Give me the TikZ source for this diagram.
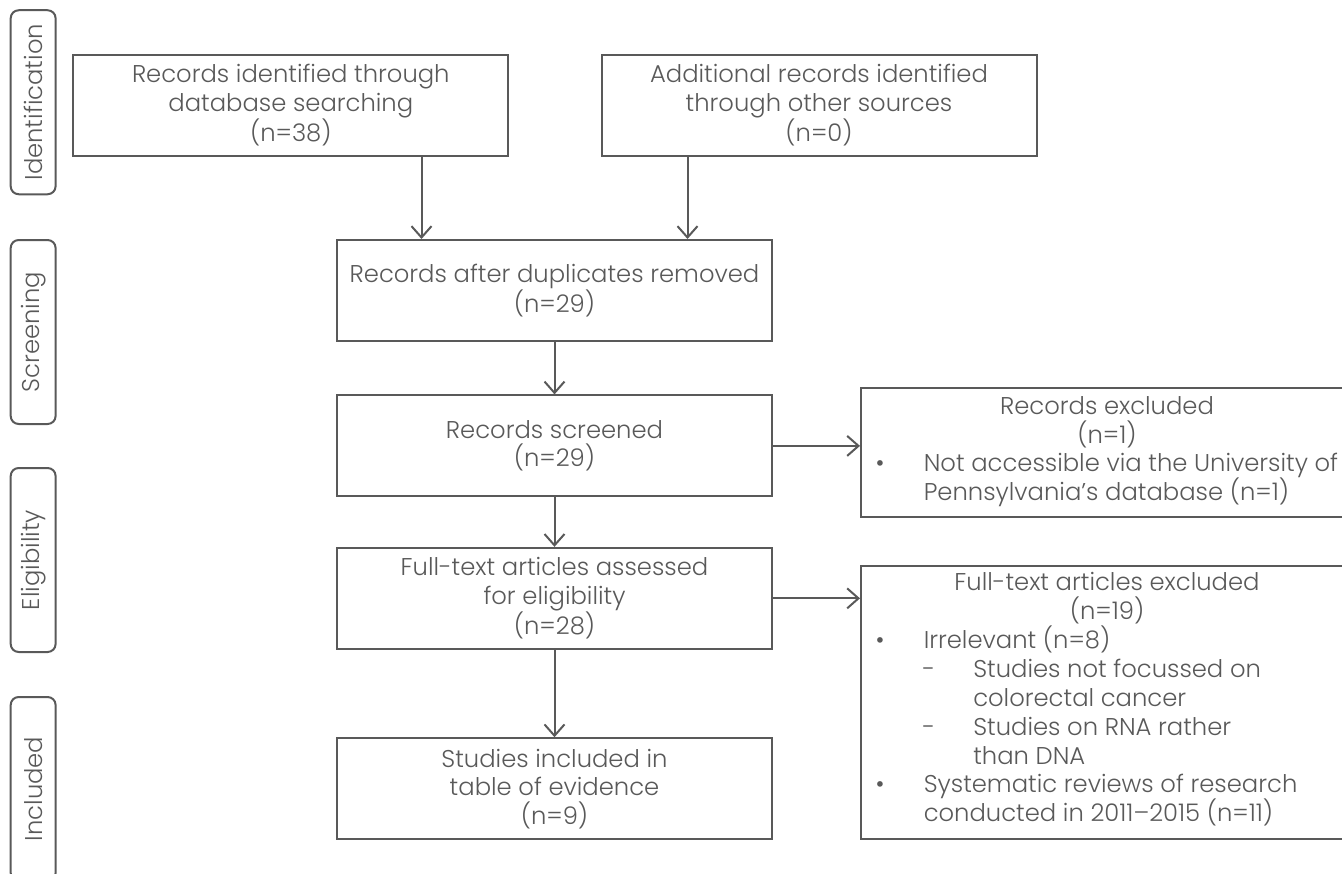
\documentclass[tikz,border=0pt]{standalone}
\usepackage{fontspec}
\IfFontExistsTF{Poppins Light}{\setmainfont{Poppins Light}}{\setmainfont{Poppins}}
\usetikzlibrary{arrows.meta}
\definecolor{ln}{HTML}{595959}
\definecolor{tx}{HTML}{595959}
\begin{document}
\begin{tikzpicture}[x=0.75pt,y=-0.75pt,
  every node/.style={text=tx, font=\fontsize{18.2pt}{21.4pt}\selectfont},
  box/.style={draw=ln, line width=1.5pt, minimum width=326.25pt, minimum height=75.75pt, inner sep=0pt, align=center},
  xbox/.style={draw=ln, line width=1.5pt, inner sep=0pt},
  lab/.style={draw=ln, line width=1.5pt, rounded corners=6pt, minimum width=138pt, minimum height=33.7pt, inner sep=0pt, rotate=90},
  arr/.style={draw=ln, line width=1.5pt, -{Straight Barb[length=8.5pt,width=15pt]}},
  ttl/.style={anchor=mid, inner sep=0pt},
  bul/.style={anchor=mid, inner sep=0pt},
  itm/.style={anchor=mid west, inner sep=0pt}]
\useasboundingbox (0,0) rectangle (1342,874);
\clip (0,0) rectangle (1342,874);
% stage labels
\node[lab] (lid)  at (33.15,102.25) {Identification};
\node[lab] (lsc)  at (33.15,332) {Screening};
\node[lab] (lel)  at (33.15,560) {Eligibility};
\node[lab] (lin)  at (33.15,789) {Included};
% main boxes
\node[box] (idb) at (290.8,105.35) {Records identified through\\database searching\\(n=38)};
\node[box] (add) at (819,105.35) {Additional records identified\\through other sources\\(n=0)};
\node[box] (dup) at (554.5,290.5) {Records after duplicates removed\\(n=29)};
\node[box] (scr) at (554.5,445.9) {Records screened\\(n=29)};
\node[box] (elg) at (554.5,598.35) {Full-text articles assessed\\for eligibility\\(n=28)};
\node[box] (inc) at (554.5,788.75) {Studies included in\\table of evidence\\(n=9)};
% exclusion boxes
\node[xbox, minimum width=375pt, minimum height=96.4pt] (exc) at (1111,452.25) {};
\node[xbox, minimum width=375pt, minimum height=205.1pt] (ftx) at (1111,702.25) {};
% exclusion texts
\node[ttl] (e1) at (1107,411) {Records excluded};
\node[ttl] (e2) at (1107,439.5) {(n=1)};
\node[bul] (e3b) at (880,468) {•};
\node[itm] (e3) at (923.5,468) {Not accessible via the University of};
\node[itm] (e4) at (923.5,496.5) {Pennsylvania’s database (n=1)};
\node[ttl] (f1) at (1107,587) {Full-text articles excluded};
\node[ttl] (f2) at (1107,616) {(n=19)};
\node[bul] (f3b) at (880,644.5) {•};
\node[itm] (f3) at (923.5,644.5) {Irrelevant (n=8)};
\node[bul] (f4b) at (929,673.5) {-};
\node[itm] (f4) at (973,673.5) {Studies not focussed on};
\node[itm] (f5) at (973,702.5) {colorectal cancer};
\node[bul] (f6b) at (929,731.5) {-};
\node[itm] (f6) at (973,731.5) {Studies on RNA rather};
\node[itm] (f7) at (973,760.5) {than DNA};
\node[bul] (f8b) at (880,789) {•};
\node[itm] (f8) at (923.5,789) {Systematic reviews of research};
\node[itm] (f9) at (923.5,818) {conducted in 2011–2015 (n=11)};
% connectors
\coordinate (cl) at (421.5,0);
\coordinate (cr) at (687.5,0);
\draw[arr] (idb.south -| cl) -- (dup.north -| cl);
\draw[arr] (add.south -| cr) -- (dup.north -| cr);
\draw[arr] (dup) -- (scr);
\draw[arr] (scr) -- (elg);
\draw[arr] (elg) -- (inc);
\draw[arr] (scr.east) -- (scr.east -| exc.west);
\draw[arr] (elg.east) -- (elg.east -| ftx.west);
\end{tikzpicture}
\end{document}
